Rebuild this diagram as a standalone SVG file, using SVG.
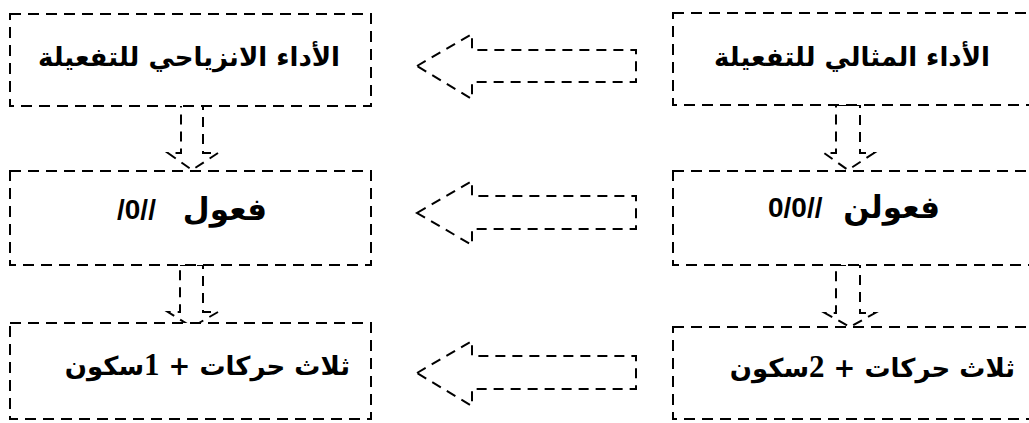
<svg xmlns="http://www.w3.org/2000/svg" width="1029" height="423" viewBox="0 0 1029 423">
<style>
.box{fill:#fff;stroke:#000;stroke-width:2;stroke-dasharray:11 7}
.arr{fill:none;stroke:#000;stroke-width:2;stroke-dasharray:10 7}
.ar{font-family:"DejaVu Sans",sans-serif;font-weight:bold;font-size:26px;fill:#000}
.big{font-size:31px}
.lat{font-family:"Liberation Sans",Arial,sans-serif;font-weight:bold;font-size:28px;fill:#000}
.num{font-family:"Liberation Serif","Times New Roman",serif;font-weight:bold;font-size:31px}
</style>
<rect width="1029" height="423" fill="#fff"/>
<g id="connectors">
<polygon class="arr" points="417,66 472,34 472,50 636,50 636,82 472,82 472,99"/>
<polygon class="arr" points="417,213 472,181 472,196 636,196 636,229 472,229 472,245"/>
<polygon class="arr" points="417,373 472,341 472,356 636,356 636,389 472,389 472,406"/>
<polygon class="arr" points="181,105 203,105 203,153 218,153 192,170 168,153 181,153"/>
<polygon class="arr" points="836,105 860,105 860,153 874,153 848,170 824,153 836,153"/>
<polygon class="arr" points="180,265 203,265 203,312 218,312 192,327 168,312 180,312"/>
<polygon class="arr" points="836,265 860,265 860,313 875,313 850,327 825,313 836,313"/>
</g>
<g id="node-ideal">
<rect class="box" x="673" y="13" width="370" height="92"/>
<text class="ar" x="852" y="66" text-anchor="middle" direction="rtl">الأداء المثالي للتفعيلة</text>
</g>
<g id="node-deviant">
<rect class="box" x="10" y="14" width="361" height="92"/>
<text class="ar" x="189" y="66" text-anchor="middle" direction="rtl">الأداء الانزياحي للتفعيلة</text>
</g>
<g id="node-faulun">
<rect class="box" x="673" y="171" width="370" height="94"/>
<text class="lat" x="768" y="217">0/0//</text>
<text class="ar big" x="940" y="218" direction="rtl">فعولن</text>
</g>
<g id="node-faul">
<rect class="box" x="10" y="171" width="361" height="94"/>
<text class="lat" x="117" y="219">/0//</text>
<text class="ar big" x="267" y="220" direction="rtl">فعول</text>
</g>
<g id="node-two">
<rect class="box" x="673" y="327" width="370" height="92"/>
<text class="ar" x="1015" y="377" direction="rtl">ثلاث حركات + <tspan class="num">2</tspan>سكون</text>
</g>
<g id="node-one">
<rect class="box" x="10" y="323" width="361" height="96"/>
<text class="ar" x="350" y="375" direction="rtl">ثلاث حركات + <tspan class="num">1</tspan>سكون</text>
</g>
</svg>
